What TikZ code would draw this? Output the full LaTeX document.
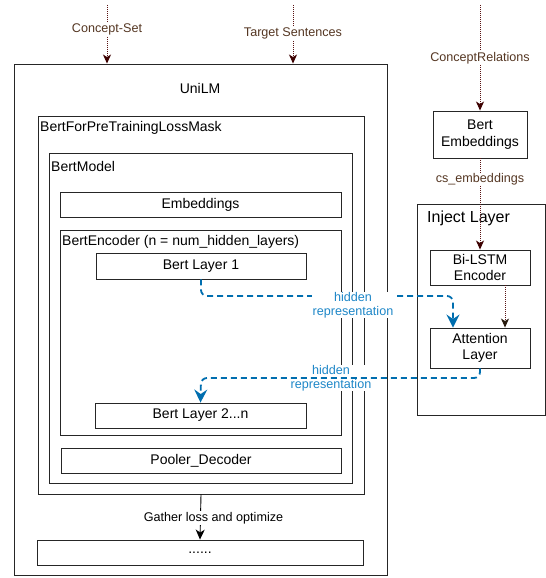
\documentclass[tikz,border=0pt]{standalone}
\usepackage{fontspec}
\setmainfont{Liberation Sans}
\usetikzlibrary{arrows.meta}
\definecolor{brownline}{RGB}{90,20,20}
\definecolor{browntip}{RGB}{60,0,0}
\definecolor{browntxt}{RGB}{85,55,35}
\definecolor{bluel}{RGB}{0,110,175}
\definecolor{bluetxt}{RGB}{30,135,200}
\begin{document}
\begin{tikzpicture}[x=1bp,y=-1bp,
  box/.style={draw=black!85, line width=0.9bp, rectangle, inner sep=0pt,
    font=\fontsize{14bp}{16.5bp}\selectfont, align=center},
  lbl/.style={font=\fontsize{14bp}{16bp}\selectfont, anchor=west, inner sep=0pt},
  inarrow/.style={draw=brownline, line width=0.9bp, dash pattern=on 1bp off 1bp,
    -{Stealth[length=9bp,width=8bp,inset=2.5bp,color=browntip]}},
  intext/.style={fill=white, text=browntxt, inner sep=1bp,
    font=\fontsize{12.6bp}{15bp}\selectfont},
  hid/.style={draw=bluel, line width=1.8bp, dash pattern=on 6bp off 4bp, rounded corners=6bp,
    -{Stealth[length=13bp,width=13bp,inset=4.5bp]}},
  hidtext/.style={fill=white, text=bluetxt, inner sep=0.5bp, align=center,
    font=\fontsize{12.6bp}{14bp}\selectfont},
]
\useasboundingbox (0,0) rectangle (546,578);

% left model
\node[box, minimum width=373bp, minimum height=511bp] (unilm) at (200.5,319.5) {};
\node[font=\fontsize{14bp}{16bp}\selectfont] (unilmlbl) at (200,88) {UniLM};
\node[box, minimum width=326bp, minimum height=378bp] (bftlm) at (201,305) {};
\node[lbl] (bftlmlbl) at (40,128) {BertForPreTrainingLossMask};
\node[box, minimum width=303bp, minimum height=330bp] (bmodel) at (200.5,318) {};
\node[lbl] (bmodellbl) at (51,166) {BertModel};
\node[box, minimum width=281bp, minimum height=25bp] (emb) at (200.5,204.5) {Embeddings};
\node[box, minimum width=281bp, minimum height=205bp] (enc) at (200.5,332.5) {};
\node[lbl] (enclbl) at (62,242) {BertEncoder (n = num\_hidden\_layers)};
\node[box, minimum width=210bp, minimum height=26bp] (l1) at (201,266) {Bert Layer 1};
\node[box, minimum width=211bp, minimum height=25bp] (l2) at (200.5,415.5) {Bert Layer 2...n};
\node[box, minimum width=280bp, minimum height=25bp] (pool) at (201,460.5) {Pooler\_Decoder};
\node[box, minimum width=326bp, minimum height=25bp] (dots) at (200,552.5) {......};

% right side
\node[box, minimum width=94bp, minimum height=47bp] (bemb) at (480,134.5) {Bert\\Embeddings};
\node[box, minimum width=128bp, minimum height=211bp] (inject) at (481,309.5) {};
\node[lbl, font=\fontsize{16bp}{18bp}\selectfont] (injectlbl) at (427,218) {Inject Layer};
\node[box, minimum width=100bp, minimum height=35bp] (bilstm) at (480,267.5) {Bi-LSTM\\Encoder};
\node[box, minimum width=100bp, minimum height=40bp] (attn) at (480,348) {Attention\\Layer};

% inputs
\coordinate (cstop) at (107,5);
\coordinate (tstop) at (293,5);
\coordinate (crtop) at (480,5);
\draw[inarrow] (cstop) -- node[pos=0.42, intext] {Concept-Set} (cstop |- unilm.north);
\draw[inarrow] (tstop) -- node[pos=0.49, intext] {Target Sentences} (tstop |- unilm.north);
\draw[inarrow] (crtop) -- node[pos=0.5, intext] {ConceptRelations} (bemb.north);
\draw[inarrow] (bemb.south) -- node[pos=0.23, intext] {cs\_embeddings} (bilstm.north);
\draw[draw=brownline, line width=0.9bp, dash pattern=on 1bp off 1bp,
    -{Stealth[length=9bp,width=8bp,inset=2.5bp,color=black!80!brown]}]
  ([xshift=25bp]bilstm.south) -- ([xshift=25bp]attn.north);

% hidden representation flows
\coordinate (h1) at (453,296);
\draw[hid] (l1.south) |- (h1) -- (h1 |- attn.north);
\node[hidtext] (hlbl1) at (353,305) {hidden\\representation};
\node[hidtext] (hlbl2) at (331,378) {hidden\\representation};
\coordinate (h2) at (201,378);
\draw[hid] (attn.south) |- (h2) -- (l2.north);

% gather
\draw[line width=0.9bp, -{Stealth[length=10bp,width=9bp,inset=3bp]}] (bftlm.south) --
  node[pos=0.52, fill=white, inner sep=1bp, xshift=13bp, font=\fontsize{12.6bp}{15bp}\selectfont] {Gather loss and optimize}
  (dots.north);
\end{tikzpicture}
\end{document}
